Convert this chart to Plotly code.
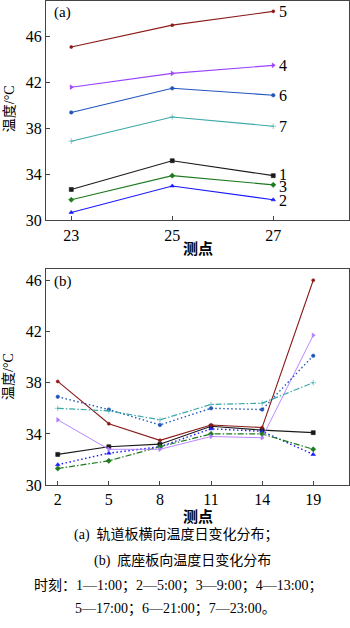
import plotly.graph_objects as go

# Panel (a)
pts_a = [23, 25, 27]
a_vals = {
    "1": [32.7, 35.2, 33.9],
    "2": [30.7, 33.0, 31.8],
    "3": [31.8, 33.9, 33.1],
    "4": [41.6, 42.8, 43.5],
    "5": [45.1, 47.0, 48.2],
    "6": [39.4, 41.5, 40.9],
    "7": [36.9, 39.0, 38.2],
}
# Panel (b)
pts_b = ["2", "5", "8", "11", "14", "19"]
b_vals = {
    "1": [32.4, 33.0, 33.2, 34.6, 34.3, 34.1],
    "2": [31.6, 32.5, 33.0, 34.4, 34.2, 32.4],
    "3": [31.3, 31.9, 33.0, 34.0, 34.0, 32.8],
    "4": [35.1, 32.8, 32.8, 33.8, 33.7, 41.7],
    "5": [38.1, 34.8, 33.5, 34.7, 34.5, 46.0],
    "6": [36.9, 35.9, 34.7, 36.0, 35.9, 40.1],
    "7": [36.0, 35.8, 35.1, 36.3, 36.4, 38.0],
}
yticks = [30, 34, 38, 42, 46]

colors = {"1": "#1a1a1a", "2": "#1a1aff", "3": "#1f7a1f", "4": "#9a40ff",
          "5": "#8b1a1a", "6": "#2255bb", "7": "#3aa8a8"}
colors_b = dict(colors, **{"4": "#b27aff"})
symbols = {"1": "square", "2": "triangle-up", "3": "diamond", "4": "triangle-right",
           "5": "circle", "6": "circle", "7": "cross-thin"}
msize = {"1": 4, "2": 4, "3": 4, "4": 4, "5": 3, "6": 3.5, "7": 4}
dash_b = {"1": "solid", "2": "1.5px,2.5px", "3": "6px,2px,1.5px,2px", "4": "solid",
          "5": "solid", "6": "1.5px,2.5px", "7": "6px,2px,1.5px,2px"}
width_b = {"1": 1.1, "2": 1.4, "3": 1.2, "4": 0.9, "5": 1.1, "6": 1.4, "7": 1.2}
lbl_shift_a = {"1": 1, "2": -1, "3": -2, "4": 0, "5": 0, "6": 0, "7": 0}
lbl_shift_b = {"1": 1, "2": -4, "3": 5, "4": 0, "5": 0, "6": 0, "7": 0}

fig = go.Figure()
serif = "Liberation Serif, Noto Sans CJK SC"
for k, v in a_vals.items():
    fig.add_trace(go.Scatter(x=pts_a, y=v, mode="lines+markers", xaxis="x", yaxis="y",
                             line=dict(color=colors[k], width=1.1),
                             marker=dict(symbol=symbols[k], size=msize[k], color=colors[k],
                                         line=dict(width=0.6, color=colors[k])),
                             showlegend=False))
for k, v in b_vals.items():
    fig.add_trace(go.Scatter(x=pts_b, y=v, mode="lines+markers", xaxis="x2", yaxis="y2",
                             line=dict(color=colors_b[k], width=width_b[k], dash=dash_b[k]),
                             marker=dict(symbol=symbols[k], size=msize[k], color=colors_b[k],
                                         line=dict(width=0.6, color=colors_b[k])),
                             showlegend=False))

ann = []
for k, v in a_vals.items():
    ann.append(dict(x=pts_a[-1], y=v[-1], xref="x", yref="y", text=k, showarrow=False,
                    xanchor="left", yanchor="middle", xshift=4, yshift=lbl_shift_a[k],
                    font=dict(family=serif, size=16, color="black")))
for k, v in b_vals.items():
    ann.append(dict(x=pts_b[-1], y=v[-1], xref="x2", yref="y2", text=k, showarrow=False,
                    xanchor="left", yanchor="middle", xshift=3, yshift=lbl_shift_b[k],
                    font=dict(family=serif, size=16, color="black")))
ann += [
    dict(x=0.02, y=0.995, xref="x domain", yref="y domain", text="(a)", showarrow=False,
         xanchor="left", yanchor="top", font=dict(family=serif, size=15, color="black")),
    dict(x=0.02, y=0.99, xref="x2 domain", yref="y2 domain", text="(b)", showarrow=False,
         xanchor="left", yanchor="top", font=dict(family=serif, size=15, color="black")),
    dict(x=198 / 350, y=1 - 252 / 628, xref="paper", yref="paper", text="<b>测点</b>",
         xanchor="center", yanchor="middle",
         showarrow=False, font=dict(family=serif, size=15, color="black")),
    dict(x=198 / 350, y=1 - 524 / 628, xref="paper", yref="paper", text="<b>测点</b>",
         xanchor="center", yanchor="middle",
         showarrow=False, font=dict(family=serif, size=15, color="black")),
    dict(x=9 / 350, y=1 - 110 / 628, xref="paper", yref="paper", text="温度/°C", textangle=-90,
         xanchor="center", yanchor="middle",
         showarrow=False, font=dict(family=serif, size=14, color="black")),
    dict(x=9 / 350, y=1 - 382 / 628, xref="paper", yref="paper", text="温度/°C", textangle=-90,
         xanchor="center", yanchor="middle",
         showarrow=False, font=dict(family=serif, size=14, color="black")),
]
captions = [
    (177, 543, "(a)  轨道板横向温度日变化分布；"),
    (182, 569, "(b)  底座板向温度日变化分布"),
    (178, 594, "时刻：1—1:00；2—5:00；3—9:00；4—13:00；"),
    (175, 618, "5—17:00；6—21:00；7—23:00。"),
]
for cx, cy, t in captions:
    ann.append(dict(x=cx / 350, y=1 - cy / 628, xref="paper", yref="paper", text=t,
                    xanchor="center", yanchor="middle",
                    showarrow=False, font=dict(family=serif, size=14, color="black")))

axis_common = dict(showline=True, mirror=True, linecolor="#444", linewidth=1.2,
                   ticks="inside", ticklen=4, tickcolor="#444", showgrid=False, zeroline=False,
                   tickfont=dict(family=serif, size=16, color="black"))

fig.update_layout(
    width=350, height=628, margin=dict(l=0, r=0, t=0, b=0),
    paper_bgcolor="white", plot_bgcolor="white",
    xaxis=dict(domain=[46 / 350, 349 / 350], anchor="y", range=[22.5, 28.5],
               tickvals=pts_a, **axis_common),
    yaxis=dict(domain=[1 - 223 / 628, 1.0], anchor="x", range=[30, 49.1],
               tickvals=yticks, **axis_common),
    xaxis2=dict(domain=[46 / 350, 349 / 350], anchor="y2", type="category",
                range=[-0.23, 5.7], **axis_common),
    yaxis2=dict(domain=[1 - 492 / 628, 1 - 272 / 628], anchor="x2", range=[30, 46.9],
                tickvals=yticks, **axis_common),
    annotations=ann,
)
fig.write_html("out.html")
